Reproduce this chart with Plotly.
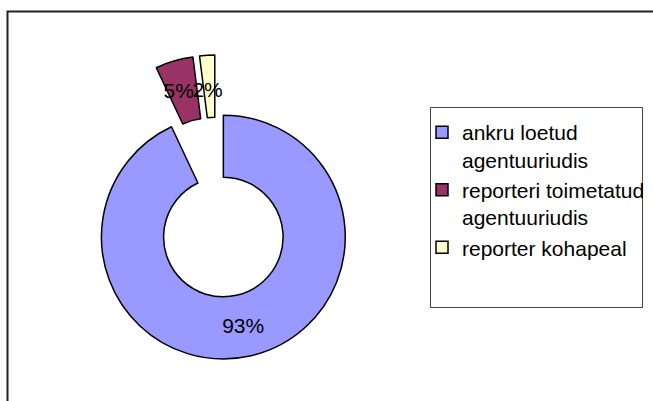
import plotly.graph_objects as go

labels = ["ankru loetud<br>agentuuriudis", "reporteri toimetatud<br>agentuuriudis", "reporter kohapeal"]
values = [93, 5, 2]
colors = ["#9999FF", "#993366", "#FFFFCC"]
label_templates = ["%{percent:.0%}", "\u00a0<br>%{percent:.0%}", "\u00a0<br>\u00a0<br>%{percent:.0%}"]

W, H = 653, 401
fig = go.Figure(go.Pie(
    labels=labels,
    values=values,
    hole=0.49,
    pull=[0.25, 0.25, 0.25],
    sort=False,
    direction="clockwise",
    rotation=0,
    marker=dict(colors=colors, line=dict(color="#000000", width=1.5)),
    texttemplate=label_templates,
    textposition="inside",
    insidetextorientation="horizontal",
    textfont=dict(family="Liberation Sans, Arial", size=21, color="#000000"),
    hoverinfo="skip",
    domain=dict(x=[0.0983, 0.5654], y=[0.103, 0.863]),
))

fig.update_layout(
    width=W, height=H,
    margin=dict(l=0, r=0, t=0, b=0),
    paper_bgcolor="white",
    plot_bgcolor="white",
    font=dict(family="Liberation Sans, Arial", size=21, color="#000000"),
    uniformtext=dict(minsize=21, mode="show"),
    showlegend=True,
    legend=dict(
        x=422 / W, xanchor="left",
        y=1 - 112 / H, yanchor="top",
        valign="top",
        bgcolor="rgba(0,0,0,0)",
        borderwidth=0,
        font=dict(family="Liberation Sans, Arial", size=21, color="#000000"),
        traceorder="normal",
    ),
    shapes=[
        dict(type="rect", xref="paper", yref="paper",
             x0=7.5 / W, x1=1.05, y0=-0.05, y1=1 - 11.5 / H,
             line=dict(color="#222222", width=2), fillcolor="rgba(0,0,0,0)", layer="below"),
        dict(type="rect", xref="paper", yref="paper",
             x0=430.5 / W, x1=642.5 / W, y0=1 - 307.5 / H, y1=1 - 107.5 / H,
             line=dict(color="#444444", width=1), fillcolor="rgba(0,0,0,0)", layer="below"),
    ],
)

fig.write_html(
    "out.html",
    config={"displayModeBar": False},
    post_script="document.body.style.margin='0';document.body.style.overflow='hidden';",
)
